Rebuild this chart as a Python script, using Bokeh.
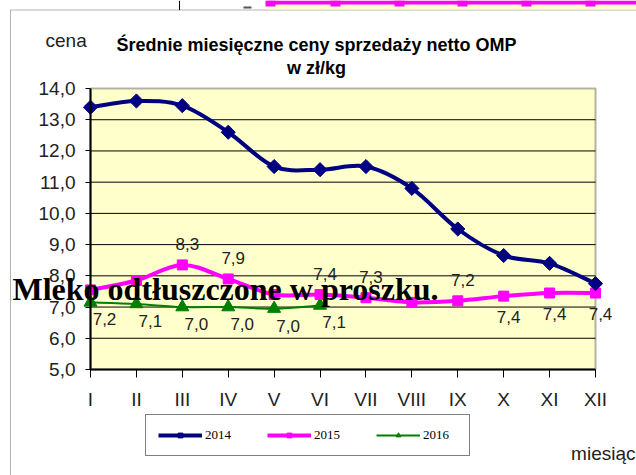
import numpy as np
from bokeh.plotting import figure
from bokeh.models import (Range1d, FixedTicker, CustomJSTickFormatter, Label, Legend,
                          LegendItem, BoxAnnotation, ColumnDataSource, LinearAxis)
from bokeh.core.properties import value
from bokeh.embed import file_html
from bokeh.resources import INLINE

# ---- data ----
months = ["I", "II", "III", "IV", "V", "VI", "VII", "VIII", "IX", "X", "XI", "XII"]
v2014 = [13.4, 13.6, 13.45, 12.6, 11.5, 11.4, 11.5, 10.8, 9.5, 8.65, 8.4, 7.75]
v2015 = [7.55, 7.85, 8.35, 7.9, 7.4, 7.4, 7.3, 7.15, 7.2, 7.35, 7.45, 7.45]
v2016 = [7.15, 7.1, 7.0, 7.0, 6.95, 7.05]
lbl2015 = ["", "", "8,3", "7,9", "", "7,4", "7,3", "", "7,2", "7,4", "7,4", "7,4"]
lbl2016 = ["7,2", "7,1", "7,0", "7,0", "7,0", "7,1"]
yticks = [5, 6, 7, 8, 9, 10, 11, 12, 13, 14]
series_names = ["2014", "2015", "2016"]

FONT = "Liberation Sans"
SERIF = "Liberation Serif"

W, H = 636, 475
# plot-area placement inside the canvas (pixels)
AX_L, AX_R, AX_T, AX_B = 90, 595, 88, 369

n = len(months)
xs = list(range(n))
ux = (AX_R - AX_L) / (n - 1)
uy = (AX_B - AX_T) / (yticks[-1] - yticks[0])
x_range = Range1d(-AX_L / ux, (n - 1) + (W - AX_R) / ux)
y_range = Range1d(yticks[0] - (H - AX_B) / uy, yticks[-1] + AX_T / uy)

p = figure(width=W, height=H, x_range=x_range, y_range=y_range,
           x_axis_location=None, y_axis_location=None,
           output_backend="svg", toolbar_location=None,
           min_border=0, min_border_left=0, min_border_right=0,
           min_border_top=0, min_border_bottom=0)
p.xgrid.visible = False
p.ygrid.visible = False
p.outline_line_color = None
p.background_fill_color = "white"
p.border_fill_color = "white"


def sbox(left, right, top, bottom, **kw):
    """Box in canvas pixels (top/bottom measured from canvas top)."""
    p.add_layout(BoxAnnotation(left=left, right=right, top=H - top, bottom=H - bottom,
                               left_units="screen", right_units="screen",
                               top_units="screen", bottom_units="screen", **kw))


# page frame and remnants of the chart above
sbox(10, W + 20, 9.5, H + 20, fill_alpha=0, line_color="black", line_width=1)
sbox(178.5, 179.5, 0, 9.5, fill_color="black", fill_alpha=1, line_alpha=0)
sbox(267, W, 0, 9, fill_color="#FFFFCC", fill_alpha=1, line_alpha=0)
sbox(267, W, 0, 4, fill_color="#FF00FF", fill_alpha=1, line_alpha=0)
for cx in [270, 335, 399, 462, 526, 590]:
    sbox(cx - 5, cx + 5, 0, 6, fill_color="#FF00FF", fill_alpha=1, line_alpha=0)
sbox(243, 251, 6, 8, fill_color="#555555", fill_alpha=1, line_alpha=0)

# plot area
p.add_layout(BoxAnnotation(left=0, right=n - 1, bottom=yticks[0], top=yticks[-1],
                           fill_color="#FFFFCC", fill_alpha=1.0, line_color="black",
                           line_width=2, level="underlay"))
# grid lines
gy = yticks[1:-1]
p.segment(x0=[0] * len(gy), x1=[n - 1] * len(gy), y0=gy, y1=gy, line_color="black", line_width=1)

# axes
yax = LinearAxis(fixed_location=0, bounds=(yticks[0], yticks[-1]))
yax.ticker = FixedTicker(ticks=yticks)
yax.formatter = CustomJSTickFormatter(code="return tick.toFixed(1).replace('.', ',')")
yax.minor_tick_line_color = None
yax.major_tick_in = 0
yax.major_tick_out = 5
yax.major_label_standoff = 10
yax.axis_line_width = 2
yax.axis_line_color = "black"
yax.major_tick_line_color = "black"
yax.major_label_text_font = FONT
yax.major_label_text_font_size = "19px"
yax.major_label_text_color = "#222222"
p.add_layout(yax, "left")

xax = LinearAxis(fixed_location=yticks[0], bounds=(0, n - 1))
xax.ticker = FixedTicker(ticks=xs)
xax.major_label_overrides = {i: m for i, m in enumerate(months)}
xax.minor_tick_line_color = None
xax.major_tick_in = 0
xax.major_tick_out = 8
xax.major_label_standoff = 11
xax.axis_line_width = 2
xax.axis_line_color = "black"
xax.major_tick_line_color = "black"
xax.major_label_text_font = FONT
xax.major_label_text_font_size = "19px"
xax.major_label_text_color = "#222222"
p.add_layout(xax, "below")


def smooth(x, y):
    x = np.asarray(x, float)
    y = np.asarray(y, float)
    xp = np.concatenate([[x[0]], x, [x[-1]]])
    yp = np.concatenate([[y[0]], y, [y[-1]]])
    m = len(x) - 1
    i = np.arange(m)
    cx0 = x[i] + (xp[i + 2] - xp[i]) / 6.0
    cy0 = y[i] + (yp[i + 2] - yp[i]) / 6.0
    cx1 = x[i + 1] - (xp[i + 3] - xp[i + 1]) / 6.0
    cy1 = y[i + 1] - (yp[i + 3] - yp[i + 1]) / 6.0
    return dict(x0=x[:-1], y0=y[:-1], x1=x[1:], y1=y[1:], cx0=cx0, cy0=cy0, cx1=cx1, cy1=cy1)


bz = dict(x0="x0", y0="y0", x1="x1", y1="y1", cx0="cx0", cy0="cy0", cx1="cx1", cy1="cy1")
# 2016
x16 = xs[:len(v2016)]
c16 = p.bezier(source=ColumnDataSource(smooth(x16, v2016)), line_color="#008000", line_width=2, **bz)
m16 = p.scatter(x16, v2016, marker="triangle", size=13, fill_color="#008000", line_color="#008000")
# 2015
c15 = p.bezier(source=ColumnDataSource(smooth(xs, v2015)), line_color="#FF00FF", line_width=4, **bz)
m15 = p.scatter(xs, v2015, marker="square", size=10, fill_color="#FF00FF", line_color="#FF00FF")
# 2014
c14 = p.bezier(source=ColumnDataSource(smooth(xs, v2014)), line_color="#000080", line_width=4, **bz)
m14 = p.scatter(xs, v2014, marker="square", angle=np.pi / 4, size=10,
                fill_color="#000080", line_color="#000080")

# data labels
above = [i for i in range(n) if lbl2015[i] and i < 9]
below = [i for i in range(n) if lbl2015[i] and i >= 9]
lab_style = dict(text_font=value(FONT), text_font_size="17px", text_color="#222222",
                 text_align="center", text_baseline="middle")
p.text(x=[xs[i] for i in above], y=[v2015[i] for i in above], text=[lbl2015[i] for i in above],
       x_offset=5, y_offset=-21, **lab_style)
p.text(x=[xs[i] for i in below], y=[v2015[i] for i in below], text=[lbl2015[i] for i in below],
       x_offset=5, y_offset=21, **lab_style)
p.text(x=x16, y=v2016, text=lbl2016, x_offset=14, y_offset=17, **lab_style)

# legend
items = [LegendItem(label=series_names[0], renderers=[c14, m14]),
         LegendItem(label=series_names[1], renderers=[c15, m15]),
         LegendItem(label=series_names[2], renderers=[c16, m16])]
leg = Legend(items=items, orientation="horizontal", location=(145, H - 456),
             padding=12, spacing=28, glyph_width=44, glyph_height=12, label_height=12,
             label_width=34, label_standoff=3, margin=0,
             label_text_font=SERIF, label_text_font_size="13px", label_text_color="black",
             border_line_color="black", border_line_width=1, background_fill_color="white",
             background_fill_alpha=1.0)
p.add_layout(leg, "center")


# texts (x from canvas left, y given from canvas top)
def lab(x, y, text, **kw):
    p.add_layout(Label(x=x, y=H - y, x_units="screen", y_units="screen", text=text, **kw))


lab(316, 44, "Średnie miesięczne ceny sprzedaży netto OMP", text_font=FONT,
    text_font_size="18px", text_font_style="bold", text_align="center",
    text_baseline="middle", text_color="black")
lab(316, 67, "w zł/kg", text_font=FONT, text_font_size="18px", text_font_style="bold",
    text_align="center", text_baseline="middle", text_color="black")
lab(45, 40, "cena", text_font=FONT, text_font_size="19px", text_align="left",
    text_baseline="middle", text_color="#222222")
lab(635, 453, "miesiąc", text_font=FONT, text_font_size="19px", text_align="right",
    text_baseline="middle", text_color="#222222")
lab(12, 288, "Mleko odtłuszczone w proszku.", text_font=SERIF, text_font_size="32px",
    text_font_style="bold", text_align="left", text_baseline="alphabetic", text_color="black")

open("out.html", "w").write(file_html(p, INLINE))
